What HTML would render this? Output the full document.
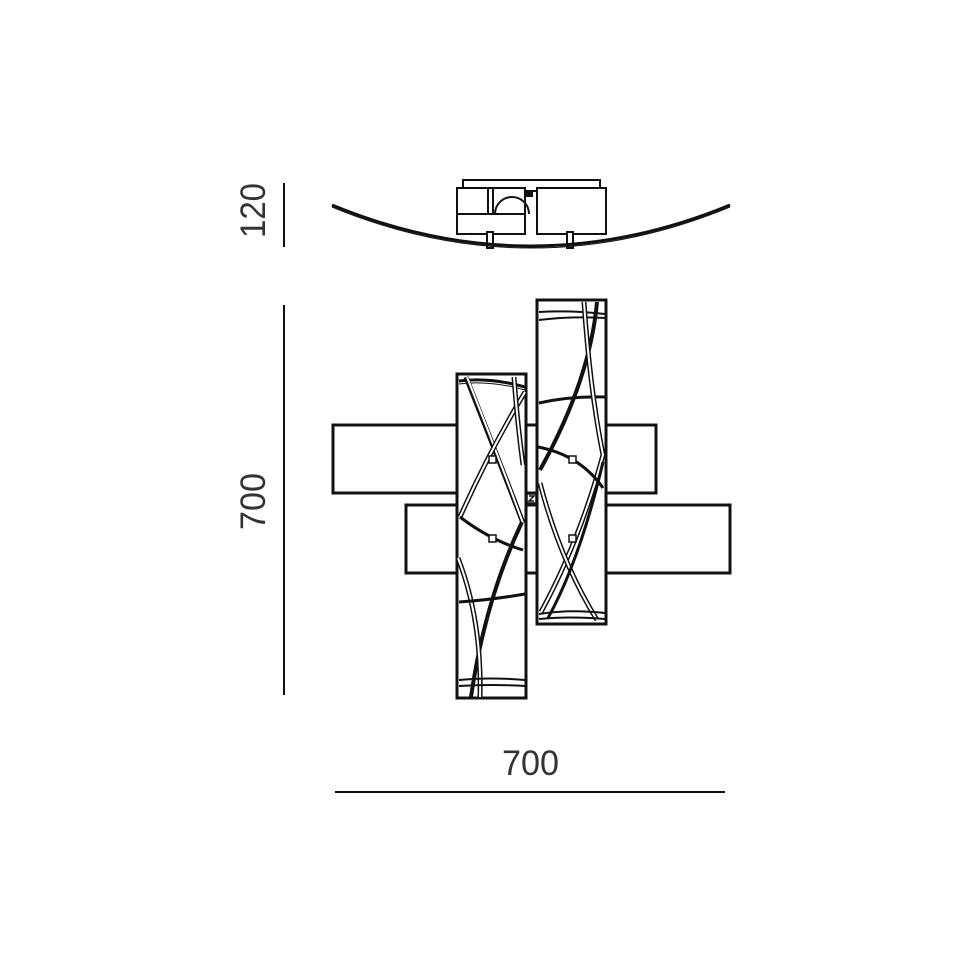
<!DOCTYPE html>
<html><head><meta charset="utf-8"><style>html,body{margin:0;padding:0;background:#fff}svg{display:block}</style></head>
<body>
<svg width="970" height="971" viewBox="0 0 970 971" xmlns="http://www.w3.org/2000/svg">
<rect width="970" height="971" fill="#fff"/>
<g font-family="Liberation Sans, sans-serif" font-size="35" fill="#333">
<text x="0" y="0" transform="translate(265,238) rotate(-90)" textLength="55" lengthAdjust="spacingAndGlyphs">120</text>
<text x="0" y="0" transform="translate(265,530) rotate(-90)" textLength="57" lengthAdjust="spacingAndGlyphs">700</text>
<text x="502" y="775" textLength="57" lengthAdjust="spacingAndGlyphs">700</text>
</g>
<g stroke="#111" stroke-width="2" fill="none">
<line x1="284" y1="183" x2="284" y2="247"/>
<line x1="284" y1="305" x2="284" y2="695"/>
<line x1="335" y1="792" x2="725" y2="792"/>
</g>
<!-- top view -->
<g stroke="#111" stroke-width="2" fill="#fff">
<rect x="463" y="180" width="137" height="11"/>
<rect x="457" y="188" width="68" height="46"/>
<line x1="457" y1="214" x2="525" y2="214"/>
<line x1="488" y1="188" x2="488" y2="214"/>
<line x1="493" y1="188" x2="493" y2="214"/>
<path d="M495 214 A17 17 0 0 1 529 214" fill="none"/>
<rect x="537" y="188" width="69" height="46"/>
<rect x="527" y="191" width="5" height="5" fill="#111"/>
<rect x="487" y="232" width="6" height="16"/>
<rect x="567" y="232" width="6" height="16"/>
<path d="M332 205 Q531 287 730 205" stroke-width="3" fill="none"/>
<path d="M332 207 Q531 289 730 207" stroke-width="1" fill="none"/>
</g>
<!-- front view -->
<g stroke="#111" stroke-width="3" fill="#fff">
<rect x="333" y="425" width="323" height="68"/>
<rect x="406" y="505" width="324" height="68"/>
<rect x="457" y="374" width="69" height="324"/>
<rect x="537" y="300" width="69" height="324"/>
</g>
<g stroke="#111" fill="none">
<!-- left panel -->
<path d="M459 381 Q490 377 525 387" stroke-width="3"/>
<path d="M459 384 Q490 380 525 390" stroke-width="1"/>
<path d="M466 377 Q495 450 523 523" stroke-width="5"/><path d="M467 377 Q496 450 523 523" stroke="#fff" stroke-width="2"/>
<path d="M525 392 Q490 450 460 517" stroke-width="5"/><path d="M525 392 Q490 450 460 517" stroke="#fff" stroke-width="2"/>
<path d="M514 377 Q517 420 523 465" stroke-width="5"/><path d="M514 377 Q517 420 523 465" stroke="#fff" stroke-width="2"/>
<path d="M460 517 Q490 540 523 550" stroke-width="3"/>
<path d="M522 522 Q485 600 471 697" stroke-width="4"/>
<path d="M458 558 Q482 620 480 697" stroke-width="5"/><path d="M458 558 Q482 620 480 697" stroke="#fff" stroke-width="2"/>
<path d="M459 602 Q490 600 525 594" stroke-width="3"/>
<path d="M459 680 Q490 677 525 680" stroke-width="2"/>
<path d="M459 686 Q490 684 525 686" stroke-width="2"/>
<!-- right panel -->
<path d="M539 312 Q570 310 605 314" stroke-width="2"/>
<path d="M539 320 Q570 316 605 318" stroke-width="2"/>
<path d="M539 403 Q570 396 605 397" stroke-width="3"/>
<path d="M597 302 Q590 380 540 470" stroke-width="4"/>
<path d="M584 302 Q590 390 603 455 Q580 540 541 612" stroke-width="5"/><path d="M584 302 Q590 390 603 455 Q580 540 541 612" stroke="#fff" stroke-width="2"/>
<path d="M540 483 Q560 560 597 620" stroke-width="5"/><path d="M540 483 Q560 560 597 620" stroke="#fff" stroke-width="2"/>
<path d="M603 462 Q580 560 548 618" stroke-width="3"/>
<path d="M538 447 Q580 455 603 488" stroke-width="3"/>
<path d="M539 614 Q570 609 605 613" stroke-width="2"/>
<path d="M539 619 Q570 616 605 619" stroke-width="2"/>
</g>
<g stroke="#111" stroke-width="1.5" fill="#fff">
<rect x="489" y="456" width="7" height="7"/>
<rect x="569" y="456" width="7" height="7"/>
<rect x="489" y="535" width="7" height="7"/>
<rect x="569" y="535" width="7" height="7"/>
<rect x="527" y="494" width="9" height="9"/>
</g>
<path d="M529 496 L534 496 L529 501 L534 501" stroke="#111" stroke-width="1.5" fill="none"/>
</svg>
</body></html>
